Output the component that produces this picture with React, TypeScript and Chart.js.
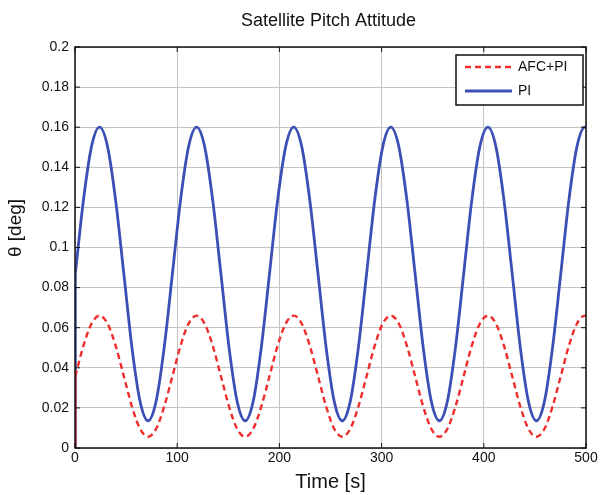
import React, { useEffect, useRef } from "react";
import { Chart, registerables } from "chart.js";

Chart.register(...registerables);

// ---- data ----
// initial transient (values jump from 0 at t = 0)
const startTime = [0, 0.3];
const afcPiStart = [0, 0.0358];
const piStart = [0, 0.0868];

// steady oscillation
const timeS = [
  0.3, 8.2, 16.1, 24.0, 31.9, 39.8, 47.8, 55.7, 63.6, 71.5, 79.4, 87.3,
  95.3, 103.2, 111.1, 119.0, 126.9, 134.8, 142.8, 150.7, 158.6, 166.5, 174.4, 182.3,
  190.3, 198.2, 206.1, 214.0, 221.9, 229.8, 237.8, 245.7, 253.6, 261.5, 269.4, 277.3,
  285.3, 293.2, 301.1, 309.0, 316.9, 324.8, 332.8, 340.7, 348.6, 356.5, 364.4, 372.3,
  380.3, 388.2, 396.1, 404.0, 411.9, 419.8, 427.8, 435.7, 443.6, 451.5, 459.4, 467.3,
  475.3, 483.2, 491.1, 499.0, 500,
];

const afcPi = [
  0.0358, 0.0509, 0.062, 0.066, 0.062, 0.0509, 0.0358, 0.0207, 0.0096, 0.0056, 0.0096, 0.0207,
  0.0358, 0.0509, 0.062, 0.066, 0.062, 0.0509, 0.0358, 0.0207, 0.0096, 0.0056, 0.0096, 0.0207,
  0.0358, 0.0509, 0.062, 0.066, 0.062, 0.0509, 0.0358, 0.0207, 0.0096, 0.0056, 0.0096, 0.0207,
  0.0358, 0.0509, 0.062, 0.066, 0.062, 0.0509, 0.0358, 0.0207, 0.0096, 0.0056, 0.0096, 0.0207,
  0.0358, 0.0509, 0.062, 0.066, 0.062, 0.0509, 0.0358, 0.0207, 0.0096, 0.0056, 0.0096, 0.0207,
  0.0358, 0.0509, 0.062, 0.066, 0.0659,
];

const pi = [
  0.0868, 0.1234, 0.1502, 0.16, 0.1502, 0.1234, 0.0868, 0.0502, 0.0234, 0.0136, 0.0234, 0.0502,
  0.0868, 0.1234, 0.1502, 0.16, 0.1502, 0.1234, 0.0868, 0.0502, 0.0234, 0.0136, 0.0234, 0.0502,
  0.0868, 0.1234, 0.1502, 0.16, 0.1502, 0.1234, 0.0868, 0.0502, 0.0234, 0.0136, 0.0234, 0.0502,
  0.0868, 0.1234, 0.1502, 0.16, 0.1502, 0.1234, 0.0868, 0.0502, 0.0234, 0.0136, 0.0234, 0.0502,
  0.0868, 0.1234, 0.1502, 0.16, 0.1502, 0.1234, 0.0868, 0.0502, 0.0234, 0.0136, 0.0234, 0.0502,
  0.0868, 0.1234, 0.1502, 0.16, 0.1598,
];

const seriesNames = ["AFC+PI", "PI"];
const xTicks = [0, 100, 200, 300, 400, 500];
const xTickLabels = ["0", "100", "200", "300", "400", "500"];
const yTicks = [0, 0.02, 0.04, 0.06, 0.08, 0.1, 0.12, 0.14, 0.16, 0.18, 0.2];
const yTickLabels = ["0", "0.02", "0.04", "0.06", "0.08", "0.1", "0.12", "0.14", "0.16", "0.18", "0.2"];
const titleText = "Satellite Pitch Attitude";
const xTitle = "Time [s]";
const yTitle = "θ [deg]";

const FONT = '"Liberation Sans", Arial, Helvetica, sans-serif';
const TEXT = "#111";
const RED = "#ee2d2d";
const BLUE = "#3b4fb4";

export default function App() {
  const ref = useRef<HTMLCanvasElement>(null);

  useEffect(() => {
    if (!ref.current) return;

    const framePlugin = {
      id: "frame",
      afterDraw(chart: any) {
        const { ctx, chartArea: a } = chart;
        const xs = chart.scales.x;
        const ys = chart.scales.y;
        ctx.save();
        // inward tick marks
        ctx.strokeStyle = "#111";
        ctx.lineWidth = 1;
        ctx.beginPath();
        xTicks.forEach((v) => {
          const px = xs.getPixelForValue(v);
          ctx.moveTo(px, a.bottom);
          ctx.lineTo(px, a.bottom - 5);
          ctx.moveTo(px, a.top);
          ctx.lineTo(px, a.top + 5);
        });
        yTicks.forEach((v) => {
          const py = ys.getPixelForValue(v);
          ctx.moveTo(a.left, py);
          ctx.lineTo(a.left + 5, py);
          ctx.moveTo(a.right, py);
          ctx.lineTo(a.right - 5, py);
        });
        ctx.stroke();
        // box
        ctx.lineWidth = 1.5;
        ctx.strokeRect(a.left, a.top, a.right - a.left, a.bottom - a.top);

        // title
        ctx.fillStyle = TEXT;
        ctx.font = `18px ${FONT}`;
        ctx.textAlign = "center";
        ctx.textBaseline = "middle";
        ctx.fillText(titleText, (a.left + a.right) / 2 - 2, 21);

        // y title
        ctx.save();
        ctx.translate(16, 228);
        ctx.rotate(-Math.PI / 2);
        ctx.font = `19px ${FONT}`;
        ctx.fillText(yTitle, 0, 0);
        ctx.restore();

        // legend
        const bw = 127;
        const bh = 50;
        const bx = a.right - 3 - bw;
        const by = a.top + 8;
        ctx.fillStyle = "#fff";
        ctx.fillRect(bx, by, bw, bh);
        ctx.strokeStyle = "#111";
        ctx.lineWidth = 1.5;
        ctx.strokeRect(bx, by, bw, bh);
        chart.data.datasets
          .filter((ds: any) => seriesNames.includes(ds.label))
          .forEach((ds: any, i: number) => {
            const ly = by + 12 + i * 24;
            ctx.save();
            ctx.strokeStyle = ds.borderColor;
            ctx.lineWidth = ds.borderWidth;
            ctx.setLineDash(ds.borderDash || []);
            ctx.beginPath();
            ctx.moveTo(bx + 9, ly);
            ctx.lineTo(bx + 56, ly);
            ctx.stroke();
            ctx.restore();
            ctx.fillStyle = TEXT;
            ctx.font = `14px ${FONT}`;
            ctx.textAlign = "left";
            ctx.textBaseline = "middle";
            ctx.fillText(ds.label, bx + 62, ly);
          });
        ctx.restore();
      },
    };

    const chart = new Chart(ref.current, {
      type: "line",
      data: {
        datasets: [
          {
            label: seriesNames[0],
            data: timeS.map((t, i) => ({ x: t, y: afcPi[i] })),
            borderColor: RED,
            borderWidth: 2.4,
            borderDash: [6, 4],
            pointRadius: 0,
            cubicInterpolationMode: "monotone",
            fill: false,
          },
          {
            label: seriesNames[1],
            data: timeS.map((t, i) => ({ x: t, y: pi[i] })),
            borderColor: BLUE,
            borderWidth: 2.8,
            pointRadius: 0,
            cubicInterpolationMode: "monotone",
            fill: false,
          },
          {
            label: "_afcStart",
            data: startTime.map((t, i) => ({ x: t, y: afcPiStart[i] })),
            borderColor: RED,
            borderWidth: 2.4,
            pointRadius: 0,
            tension: 0,
            fill: false,
          },
          {
            label: "_piStart",
            data: startTime.map((t, i) => ({ x: t, y: piStart[i] })),
            borderColor: BLUE,
            borderWidth: 2.8,
            pointRadius: 0,
            tension: 0,
            fill: false,
          },
        ],
      },
      options: {
        animation: false,
        responsive: true,
        maintainAspectRatio: false,
        layout: { padding: { top: 47, right: 15, left: 0, bottom: 0 } },
        plugins: {
          legend: { display: false },
          title: { display: false },
          tooltip: { enabled: false },
        },
        scales: {
          x: {
            type: "linear",
            min: 0,
            max: 500,
            afterBuildTicks: (s: any) => {
              s.ticks = xTicks.map((v) => ({ value: v }));
            },
            afterFit: (s: any) => {
              s.height = 47;
            },
            ticks: {
              callback: (_v: any, i: number) => xTickLabels[i],
              font: { family: FONT, size: 14 },
              color: TEXT,
              padding: 2,
              maxRotation: 0,
              autoSkip: false,
            },
            grid: { color: "#c4c4c4", lineWidth: 1, drawTicks: false },
            border: { display: false },
            title: {
              display: true,
              text: xTitle,
              font: { family: FONT, size: 20 },
              color: TEXT,
              padding: { top: 0, bottom: 1 },
            },
          },
          y: {
            type: "linear",
            min: 0,
            max: 0.2,
            afterBuildTicks: (s: any) => {
              s.ticks = yTicks.map((v) => ({ value: v }));
            },
            afterFit: (s: any) => {
              s.width = 75;
            },
            ticks: {
              callback: (_v: any, i: number) => yTickLabels[i],
              font: { family: FONT, size: 14 },
              color: TEXT,
              padding: 6,
              autoSkip: false,
            },
            grid: { color: "#c4c4c4", lineWidth: 1, drawTicks: false },
            border: { display: false },
          },
        },
      },
      plugins: [framePlugin],
    } as any);

    return () => chart.destroy();
  }, []);

  return (
    <div style={{ position: "absolute", left: 0, top: 0, width: 601, height: 495, background: "#fff" }}>
      <canvas ref={ref} />
    </div>
  );
}
